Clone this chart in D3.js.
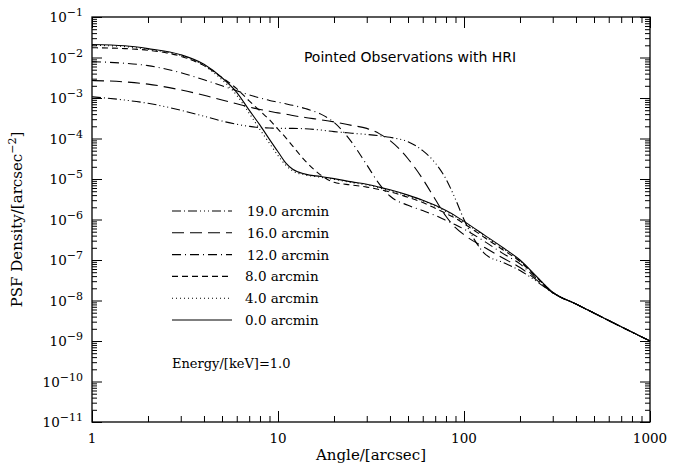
<!DOCTYPE html>
<html>
<head>
<meta charset="utf-8">
<script src="https://cdn.jsdelivr.net/npm/d3@7"></script>
<style>
  body { margin: 0; background: #fff; }
  text { fill: #000; }
</style>
</head>
<body>
<script>
// values
var angles = [1, 1.5, 2, 3, 4, 5, 6, 7, 8, 9, 10, 11, 12, 14, 17, 20, 25, 30, 35, 40,
              50, 60, 70, 80, 90, 100, 130, 160, 200, 250, 300, 400, 600, 1000];

var psf00 = [2.1e-2, 1.95e-2, 1.66e-2, 1.17e-2, 6.8e-3, 3.16e-3, 1.38e-3, 5.0e-4, 2.14e-4, 9.5e-5,
             4.7e-5, 2.5e-5, 1.74e-5, 1.32e-5, 1.15e-5, 1.02e-5, 8.5e-6, 7.4e-6, 6.3e-6, 5.4e-6,
             4.0e-6, 3.0e-6, 2.24e-6, 1.66e-6, 1.23e-6, 9.0e-7, 4.0e-7, 2.1e-7, 1.0e-7, 3.6e-8,
             1.6e-8, 8.2e-9, 3.2e-9, 1.0e-9];
var psf04 = [2.0e-2, 1.86e-2, 1.58e-2, 1.12e-2, 6.3e-3, 2.82e-3, 1.17e-3, 4.2e-4, 1.66e-4, 7.6e-5,
             3.8e-5, 2.2e-5, 1.58e-5, 1.26e-5, 1.1e-5, 9.8e-6, 8.1e-6, 7.1e-6, 6.0e-6, 5.1e-6,
             3.8e-6, 2.9e-6, 2.14e-6, 1.58e-6, 1.17e-6, 8.6e-7, 3.8e-7, 2.0e-7, 9.6e-8, 3.5e-8,
             1.6e-8, 8.2e-9, 3.2e-9, 1.0e-9];
var psf08 = [1.74e-2, 1.66e-2, 1.51e-2, 1.07e-2, 6.3e-3, 3.2e-3, 1.7e-3, 8.5e-4, 4.8e-4, 2.9e-4,
             1.7e-4, 1.05e-4, 6.5e-5, 2.8e-5, 1.25e-5, 8.3e-6, 7.1e-6, 6.3e-6, 5.5e-6, 4.8e-6,
             3.55e-6, 2.63e-6, 1.9e-6, 1.41e-6, 1.07e-6, 7.9e-7, 3.5e-7, 1.85e-7, 9.2e-8, 3.4e-8,
             1.58e-8, 8.2e-9, 3.2e-9, 1.0e-9];
var psf12 = [7.9e-3, 7.2e-3, 6.3e-3, 4.2e-3, 2.82e-3, 2.0e-3, 1.51e-3, 1.2e-3, 1.0e-3, 8.7e-4,
             7.9e-4, 7.2e-4, 6.6e-4, 5.5e-4, 4.0e-4, 2.5e-4, 7.9e-5, 2.24e-5, 7.6e-6, 3.8e-6,
             2.24e-6, 1.66e-6, 1.26e-6, 9.5e-7, 7.4e-7, 5.8e-7, 2.8e-7, 1.5e-7, 8.0e-8, 3.2e-8,
             1.56e-8, 8.2e-9, 3.2e-9, 1.0e-9];
var psf16 = [2.7e-3, 2.5e-3, 2.2e-3, 1.58e-3, 1.17e-3, 8.9e-4, 7.2e-4, 6.0e-4, 5.2e-4, 4.7e-4,
             4.3e-4, 4.0e-4, 3.7e-4, 3.3e-4, 2.9e-4, 2.57e-4, 2.1e-4, 1.78e-4, 1.32e-4, 8.9e-5,
             3.16e-5, 1.0e-5, 3.16e-6, 1.2e-6, 6.3e-7, 4.2e-7, 2.0e-7, 1.15e-7, 6.5e-8, 3.0e-8,
             1.55e-8, 8.2e-9, 3.2e-9, 1.0e-9];
var psf19 = [1.07e-3, 8.9e-4, 7.4e-4, 5.0e-4, 3.55e-4, 2.7e-4, 2.24e-4, 2.0e-4, 1.86e-4, 1.82e-4,
             1.78e-4, 1.78e-4, 1.78e-4, 1.74e-4, 1.62e-4, 1.48e-4, 1.35e-4, 1.26e-4, 1.17e-4, 1.07e-4,
             8.3e-5, 5.0e-5, 2.5e-5, 1.0e-5, 3.16e-6, 1.0e-6, 1.4e-7, 8.9e-8, 5.5e-8, 2.8e-8,
             1.55e-8, 8.2e-9, 3.2e-9, 1.0e-9];

var seriesLabels = ["19.0 arcmin", "16.0 arcmin", "12.0 arcmin", "8.0 arcmin", "4.0 arcmin", "0.0 arcmin"];
var xTickLabels = ["1", "10", "100", "1000"];
var yExponents = [-1, -2, -3, -4, -5, -6, -7, -8, -9, -10, -11];

var series = [
  {name: seriesLabels[0], values: psf19, dash: "9,3,1,3,9,3,1,3,1,3,1,3"},
  {name: seriesLabels[1], values: psf16, dash: "12,6"},
  {name: seriesLabels[2], values: psf12, dash: "9,4,1,4"},
  {name: seriesLabels[3], values: psf08, dash: "6,4"},
  {name: seriesLabels[4], values: psf04, dash: "1,3"},
  {name: seriesLabels[5], values: psf00, dash: null}
];

var W = 683, H = 464;
var margin = {top: 17, right: 33, bottom: 42, left: 92};
var width = W - margin.left - margin.right,
    height = H - margin.top - margin.bottom;

var svg = d3.select("body").append("svg")
    .attr("width", W)
    .attr("height", H);

var g = svg.append("g")
    .attr("transform", "translate(" + margin.left + "," + margin.top + ")");

var x = d3.scaleLog().domain([1, 1000]).range([0, width]);
var y = d3.scaleLog().domain([1e-11, 1e-1]).range([height, 0]);

// tick positions
var xMajor = [1, 10, 100, 1000];
var xMinor = [];
[1, 10, 100].forEach(function(d) {
  for (var k = 2; k <= 9; k++) xMinor.push(d * k);
});
var yMajor = yExponents.map(function(e) { return Math.pow(10, e); });
var yMinor = [];
yExponents.slice(1).forEach(function(e) {
  for (var k = 2; k <= 9; k++) yMinor.push(k * Math.pow(10, e));
});

function styleAxis(sel) {
  sel.select(".domain").remove();
  sel.selectAll("line").attr("stroke", "#000").attr("stroke-width", 1);
  sel.selectAll("text").remove();
}

// axes: ticks point inward on all four sides
g.append("g").attr("transform", "translate(0," + height + ")")
  .call(d3.axisBottom(x).tickValues(xMajor).tickSize(-11)).call(styleAxis);
g.append("g").attr("transform", "translate(0," + height + ")")
  .call(d3.axisBottom(x).tickValues(xMinor).tickSize(-6)).call(styleAxis);
g.append("g")
  .call(d3.axisTop(x).tickValues(xMajor).tickSize(-11)).call(styleAxis);
g.append("g")
  .call(d3.axisTop(x).tickValues(xMinor).tickSize(-6)).call(styleAxis);
g.append("g")
  .call(d3.axisLeft(y).tickValues(yMajor).tickSize(-10)).call(styleAxis);
g.append("g")
  .call(d3.axisLeft(y).tickValues(yMinor).tickSize(-5)).call(styleAxis);
g.append("g").attr("transform", "translate(" + width + ",0)")
  .call(d3.axisRight(y).tickValues(yMajor).tickSize(-10)).call(styleAxis);
g.append("g").attr("transform", "translate(" + width + ",0)")
  .call(d3.axisRight(y).tickValues(yMinor).tickSize(-5)).call(styleAxis);

g.append("rect")
  .attr("width", width).attr("height", height)
  .attr("fill", "none").attr("stroke", "#000").attr("stroke-width", 1.3);

var serif = "'DejaVu Serif', serif";

// x tick labels
g.selectAll(".xlab").data(xMajor).enter().append("text")
  .attr("x", function(d) { return x(d); })
  .attr("y", height + 21)
  .attr("text-anchor", "middle")
  .style("font-family", serif).style("font-size", "13.5px")
  .text(function(d, i) { return xTickLabels[i]; });

// y tick labels with superscript exponent
var ylab = g.selectAll(".ylab").data(yExponents).enter().append("text")
  .attr("x", -9)
  .attr("y", function(e) { return y(Math.pow(10, e)) + 5; })
  .attr("text-anchor", "end")
  .style("font-family", serif).style("font-size", "13.5px");
ylab.append("tspan").text("10");
ylab.append("tspan").attr("dy", -6).style("font-size", "11px")
  .text(function(e) { return "\u2212" + Math.abs(e); });

// axis titles
g.append("text")
  .attr("x", width / 2).attr("y", height + 38)
  .attr("text-anchor", "middle")
  .style("font-family", serif).style("font-size", "15px")
  .text("Angle/[arcsec]");

var yt = svg.append("text")
  .attr("transform", "translate(22," + (margin.top + height / 2) + ") rotate(-90)")
  .attr("text-anchor", "middle")
  .style("font-family", serif).style("font-size", "15px");
yt.append("tspan").text("PSF Density/[arcsec");
yt.append("tspan").attr("dy", -6).style("font-size", "11px").text("\u22122");
yt.append("tspan").attr("dy", 6).text("]");

// curves
var line = d3.line()
  .x(function(d) { return x(d[0]); })
  .y(function(d) { return y(d[1]); })
  .curve(d3.curveMonotoneX);

g.selectAll(".curve").data(series).enter().append("path")
  .attr("fill", "none")
  .attr("stroke", "#000")
  .attr("stroke-width", 1.1)
  .attr("stroke-dasharray", function(d) { return d.dash; })
  .attr("d", function(d) { return line(d3.zip(angles, d.values)); });

// legend
var legend = g.selectAll(".leg").data(series).enter().append("g")
  .attr("transform", function(d, i) { return "translate(80," + (194 + i * 21.8) + ")"; });
legend.append("line")
  .attr("x1", 0).attr("x2", 60)
  .attr("stroke", "#000").attr("stroke-width", 1.1)
  .attr("stroke-dasharray", function(d) { return d.dash; });
legend.append("text")
  .attr("x", function(d, i) { return i < 3 ? 75 : 73; })
  .attr("y", 5)
  .style("font-family", serif).style("font-size", "13.5px")
  .text(function(d) { return d.name; });

// annotations
g.append("text")
  .attr("x", 318).attr("y", 45)
  .attr("text-anchor", "middle")
  .style("font-family", "'DejaVu Sans', sans-serif").style("font-size", "14px")
  .text("Pointed Observations with HRI");

g.append("text")
  .attr("x", 80).attr("y", 351)
  .style("font-family", serif).style("font-size", "13px")
  .text("Energy/[keV]=1.0");
</script>
</body>
</html>
